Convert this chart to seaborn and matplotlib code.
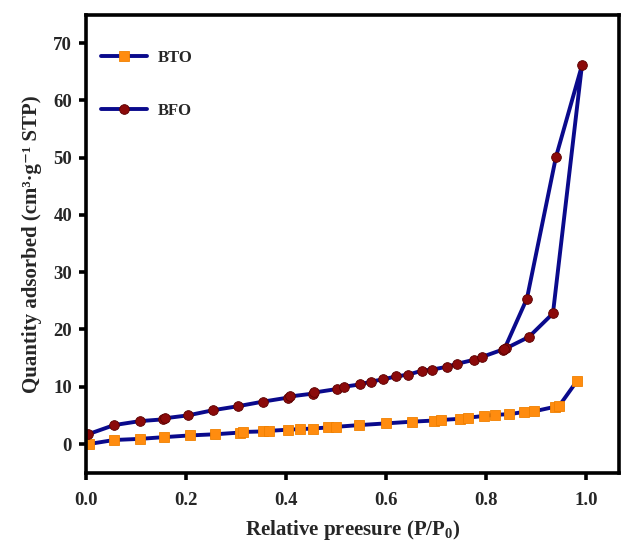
import matplotlib
matplotlib.use("Agg")
import matplotlib.pyplot as plt
import seaborn as sns
import pandas as pd

# BTO isotherm
bto_p = [0.006, 0.056, 0.108, 0.156, 0.208, 0.258, 0.308, 0.314, 0.354, 0.366, 0.404, 0.428,
         0.454, 0.485, 0.500, 0.546, 0.600, 0.652, 0.696, 0.710, 0.748, 0.764, 0.796,
         0.818, 0.846, 0.876, 0.896, 0.938, 0.946, 0.982]
bto_q = [0.0, 0.7, 0.9, 1.2, 1.5, 1.7, 2.0, 2.1, 2.2, 2.3, 2.5, 2.6,
         2.7, 2.9, 3.0, 3.3, 3.6, 3.9, 4.1, 4.2, 4.4, 4.6, 4.9,
         5.1, 5.2, 5.6, 5.7, 6.5, 6.6, 11.0]

# BFO isotherm (adsorption branch followed by desorption branch)
bfo_p = [0.004, 0.056, 0.108, 0.154, 0.158, 0.204, 0.254, 0.304, 0.354, 0.404, 0.408,
         0.454, 0.457, 0.502, 0.516, 0.548, 0.570, 0.595, 0.620, 0.644, 0.672, 0.693,
         0.723, 0.742, 0.776, 0.792, 0.834, 0.840, 0.886, 0.934, 0.992,
         0.940, 0.882, 0.837]
bfo_q = [1.7, 3.3, 4.0, 4.3, 4.5, 5.0, 5.9, 6.6, 7.4, 8.1, 8.3,
         8.8, 9.0, 9.6, 10.0, 10.4, 10.9, 11.3, 11.8, 12.1, 12.8, 13.0,
         13.5, 14.0, 14.7, 15.2, 16.5, 16.7, 18.7, 22.8, 66.1,
         50.1, 25.4, 16.6]

series_names = ["BTO", "BFO"]
x_ticks = [0.0, 0.2, 0.4, 0.6, 0.8, 1.0]
y_ticks = [0, 10, 20, 30, 40, 50, 60, 70]

sns.set_style("white")
plt.rcParams["font.family"] = ["Liberation Serif", "DejaVu Serif"]
plt.rcParams["font.weight"] = "bold"
plt.rcParams["mathtext.fontset"] = "custom"
plt.rcParams["mathtext.rm"] = "Liberation Serif:bold"
plt.rcParams["mathtext.it"] = "Liberation Serif:bold"
plt.rcParams["mathtext.bf"] = "Liberation Serif:bold"

fig = plt.figure(figsize=(6.39, 5.41), dpi=100)
ax = fig.add_axes([0.1346, 0.1257, 0.834, 0.8466])

line_col = "#0a0a8c"
df_bto = pd.DataFrame({"p": bto_p, "q": bto_q})
df_bfo = pd.DataFrame({"p": bfo_p, "q": bfo_q})

sns.lineplot(data=df_bto, x="p", y="q", sort=False, estimator=None, ax=ax,
             color=line_col, lw=2.8, marker="s", markersize=6.5,
             markerfacecolor="#ff8c0f", markeredgecolor="#f08000", markeredgewidth=0.6,
             label=series_names[0])
sns.lineplot(data=df_bfo, x="p", y="q", sort=False, estimator=None, ax=ax,
             color=line_col, lw=2.8, marker="o", markersize=7,
             markerfacecolor="#8b0a0a", markeredgecolor="#5a0000", markeredgewidth=0.6,
             label=series_names[1])

ax.set_xlim(0, 1.066)
ax.set_ylim(-5.06, 74.9)
ax.set_xticks(x_ticks)
ax.set_yticks(y_ticks)
ax.set_xticklabels([f"{v:.1f}" for v in x_ticks], fontsize=13.5, fontweight="bold")
ax.set_yticklabels([str(v) for v in y_ticks], fontsize=13.5, fontweight="bold")
ax.tick_params(axis="both", direction="out", length=5, width=2.6, color="black",
               bottom=True, left=True, top=False, right=False)
ax.tick_params(axis="x", pad=9)
ax.tick_params(axis="y", pad=5)

for s in ax.spines.values():
    s.set_visible(True)
    s.set_linewidth(2.6)
    s.set_color("black")

ax.set_xlabel("Relative preesure (P/P$_0$)", fontsize=15, fontweight="bold", labelpad=6)
ax.set_ylabel("Quantity adsorbed (cm³·g⁻¹ STP)", fontsize=15,
              fontweight="bold", labelpad=8)

leg = ax.legend(loc="upper left", frameon=False, handlelength=2.8, handletextpad=0.6,
                labelspacing=2.25, borderaxespad=0.0, bbox_to_anchor=(0.015, 0.939),
                prop={"weight": "bold", "size": 12})

fig.savefig("out.png", dpi=100)
